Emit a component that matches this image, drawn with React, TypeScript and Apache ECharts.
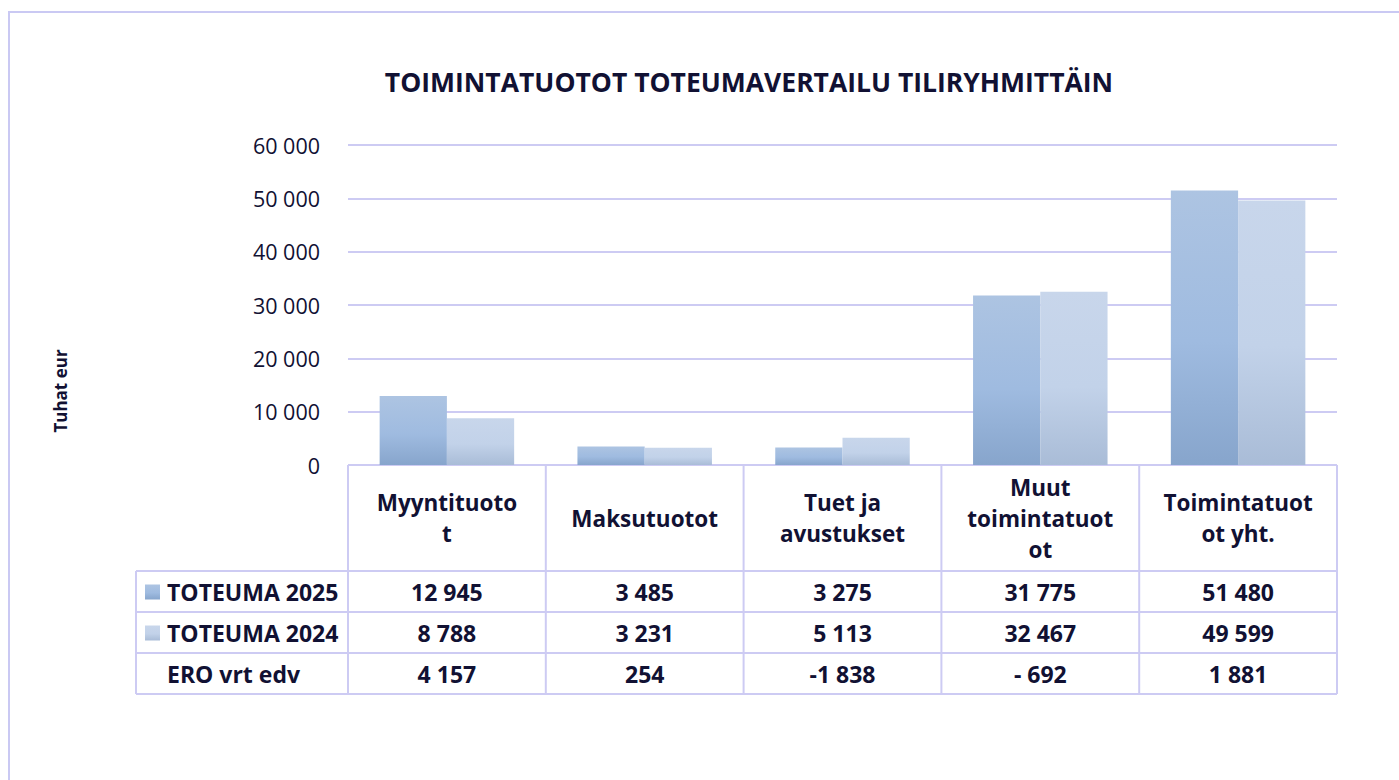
import React, { useEffect, useRef } from "react";
import * as echarts from "echarts";

const categories = ["Myyntituotot", "Maksutuotot", "Tuet ja avustukset", "Muut toimintatuotot", "Toimintatuotot yht."];
const headerLabels = ["Myyntituoto\nt", "Maksutuotot", "Tuet ja\navustukset", "Muut\ntoimintatuot\not", "Toimintatuot\not yht."];
const seriesNames = ["TOTEUMA 2025", "TOTEUMA 2024"];
const toteuma2025 = [12945, 3485, 3275, 31775, 51480];
const toteuma2024 = [8788, 3231, 5113, 32467, 49599];
const eroLabel = "ERO vrt edv";
const eroValues = [4157, 254, -1838, -692, 1881];
const yTicks = [0, 10000, 20000, 30000, 40000, 50000, 60000];

const TITLE = "TOIMINTATUOTOT TOTEUMAVERTAILU TILIRYHMITTÄIN";
const YNAME = "Tuhat eur";

const FONT = "'Open Sans', Lato, sans-serif";
const TXT = "#111133";
const LINE = "#cdcbf3";

const W = 1399;
const H = 780;
const GL = 348;
const GR = 1337;
const GT = 145;
const GB = 465;

function fmt(v: number): string {
  const a = Math.abs(Math.round(v));
  const s = String(a).replace(/\B(?=(\d{3})+(?!\d))/g, " ");
  if (v < 0) return (a < 1000 ? "- " : "-") + s;
  return s;
}

const grad2025 = () =>
  new echarts.graphic.LinearGradient(0, 0, 0, 1, [
    { offset: 0, color: "#adc4e2" },
    { offset: 0.55, color: "#9fbbe0" },
    { offset: 1, color: "#87a5cc" },
  ]);
const grad2024 = () =>
  new echarts.graphic.LinearGradient(0, 0, 0, 1, [
    { offset: 0, color: "#c8d6eb" },
    { offset: 0.55, color: "#c2d2e9" },
    { offset: 1, color: "#a9bcd7" },
  ]);

export default function App() {
  const ref = useRef<HTMLDivElement>(null);
  useEffect(() => {
    if (!ref.current) return;
    const chart = echarts.init(ref.current, null, { renderer: "svg" });
    const n = categories.length;
    const cw = (GR - GL) / n;
    const colX = Array.from({ length: n + 1 }, (_, i) => GL + i * cw);
    const tableLeft = 136;
    const rowY = [GB, 571, 612, 653, 694];
    const g: any[] = [];
    g.push({
      type: "rect",
      shape: { x: 9, y: 12, width: W + 20, height: H + 20 },
      style: { fill: "none", stroke: "#cac9f3", lineWidth: 2 },
    });
    g.push({
      type: "text",
      x: 749,
      y: 82,
      style: { text: TITLE, font: `bold 26.5px ${FONT}`, fill: TXT, align: "center", verticalAlign: "middle" },
    });
    g.push({
      type: "text",
      x: 60,
      y: 391,
      rotation: Math.PI / 2,
      style: { text: YNAME, font: `bold 17px ${FONT}`, fill: TXT, align: "center", verticalAlign: "middle" },
    });
    g.push({ type: "line", shape: { x1: GL, y1: rowY[0], x2: GR, y2: rowY[0] }, style: { stroke: LINE, lineWidth: 2 } });
    for (let r = 1; r < rowY.length; r++) {
      g.push({ type: "line", shape: { x1: tableLeft, y1: rowY[r], x2: GR, y2: rowY[r] }, style: { stroke: LINE, lineWidth: 2 } });
    }
    g.push({ type: "line", shape: { x1: tableLeft, y1: rowY[1], x2: tableLeft, y2: rowY[4] }, style: { stroke: LINE, lineWidth: 2 } });
    colX.forEach((x) => {
      g.push({ type: "line", shape: { x1: x, y1: rowY[0], x2: x, y2: rowY[4] }, style: { stroke: LINE, lineWidth: 2 } });
    });
    headerLabels.forEach((lab, i) => {
      g.push({
        type: "text",
        x: colX[i] + cw / 2,
        y: (rowY[0] + rowY[1]) / 2,
        style: { text: lab, font: `bold 22.5px ${FONT}`, lineHeight: 31, fill: TXT, align: "center", verticalAlign: "middle" },
      });
    });
    const rows = [
      { name: seriesNames[0], vals: toteuma2025, key: grad2025() },
      { name: seriesNames[1], vals: toteuma2024, key: grad2024() },
      { name: eroLabel, vals: eroValues, key: null },
    ];
    rows.forEach((row, r) => {
      const cy = (rowY[r + 1] + rowY[r + 2]) / 2;
      if (row.key) {
        g.push({ type: "rect", shape: { x: 145, y: cy - 7, width: 15, height: 15 }, style: { fill: row.key } });
      }
      g.push({
        type: "text",
        x: 167,
        y: cy,
        style: { text: row.name, font: `bold 23px ${FONT}`, fill: TXT, align: "left", verticalAlign: "middle" },
      });
      row.vals.forEach((v, i) => {
        g.push({
          type: "text",
          x: colX[i] + cw / 2,
          y: cy,
          style: { text: fmt(v), font: `bold 23px ${FONT}`, fill: TXT, align: "center", verticalAlign: "middle" },
        });
      });
    });

    chart.setOption({
      animation: false,
      backgroundColor: "#ffffff",
      grid: { left: GL, right: W - GR, top: GT, bottom: H - GB, containLabel: false },
      xAxis: {
        type: "category",
        data: categories,
        axisLine: { show: false },
        axisTick: { show: false },
        axisLabel: { show: false },
      },
      yAxis: {
        type: "value",
        min: yTicks[0],
        max: yTicks[yTicks.length - 1],
        interval: 10000,
        axisLine: { show: false },
        axisTick: { show: false },
        splitLine: { lineStyle: { color: LINE, width: 2 } },
        axisLabel: {
          margin: 28,
          fontFamily: FONT,
          fontSize: 21.5,
          color: TXT,
          formatter: (v: number) => fmt(v),
        },
      },
      series: [
        {
          name: seriesNames[0],
          type: "bar",
          data: toteuma2025,
          barGap: "0%",
          barCategoryGap: "32%",
          itemStyle: { color: grad2025() },
        },
        {
          name: seriesNames[1],
          type: "bar",
          data: toteuma2024,
          itemStyle: { color: grad2024() },
        },
      ],
      graphic: g,
    });
    return () => chart.dispose();
  }, []);
  return <div ref={ref} style={{ position: "fixed", left: 0, top: 0, width: W, height: H, background: "#fff" }} />;
}
